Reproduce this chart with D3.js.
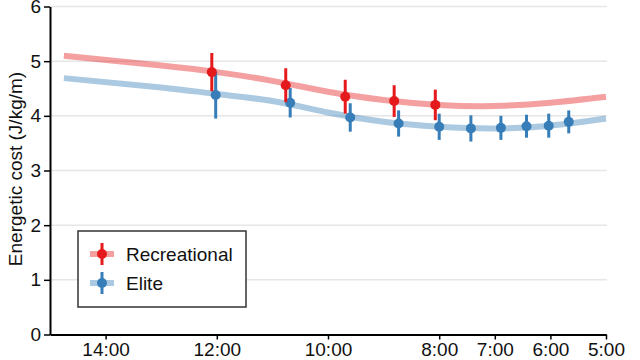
<!DOCTYPE html>
<html><head><meta charset="utf-8">
<script src="https://cdn.jsdelivr.net/npm/d3@7"></script>
<style>body{margin:0;background:#fff}svg{display:block;font-family:"Liberation Sans",Arial,sans-serif}</style>
</head><body><svg id="c" width="640" height="360"></svg>
<script>
const xTicks = [14, 12, 10, 8, 7, 6, 5];
const yTicks = [0, 1, 2, 3, 4, 5, 6];
const seriesNames = ["Recreational", "Elite"];

const recPace = [12.09, 10.76, 9.69, 8.81, 8.07];
const recMean = [4.80, 4.56, 4.35, 4.27, 4.20];
const recErr  = [0.35, 0.31, 0.31, 0.29, 0.28];

const elitePace = [12.02, 10.68, 9.60, 8.73, 8.00, 7.43, 6.89, 6.43, 6.03, 5.67];
const eliteMean = [4.38, 4.24, 3.97, 3.86, 3.80, 3.77, 3.78, 3.81, 3.82, 3.89];
const eliteErr  = [0.43, 0.27, 0.26, 0.24, 0.24, 0.24, 0.22, 0.21, 0.22, 0.21];

const fitPace  = [14.75, 13, 12, 11, 10, 9, 8, 7, 6, 5];
const recFit   = [5.10, 4.92, 4.80, 4.64, 4.44, 4.29, 4.20, 4.18, 4.24, 4.35];
const eliteFit = [4.69, 4.52, 4.40, 4.27, 4.06, 3.89, 3.80, 3.77, 3.82, 3.95];

const colors = ["#e41a1c", "#377eb8"];

const svg = d3.select("#c");
const x = d3.scaleLinear().domain([15, 5]).range([50, 606]);
const y = d3.scaleLinear().domain([0, 6]).range([334.5, 6.5]);

// grid
svg.append("g").selectAll("line").data(yTicks.filter(d => d > 0)).join("line")
  .attr("x1", 50).attr("x2", 607).attr("y1", d => y(d)).attr("y2", d => y(d))
  .attr("stroke", "#e6e6e6").attr("stroke-width", 1.5);

// fitted curves
const line = d3.line().x(d => x(d[0])).y(d => y(d[1])).curve(d3.curveNatural);
[recFit, eliteFit].forEach((f, i) => {
  svg.append("path").datum(fitPace.map((p, j) => [p, f[j]]))
    .attr("d", line).attr("fill", "none")
    .attr("stroke", colors[i]).attr("stroke-opacity", 0.42).attr("stroke-width", 6)
    .attr("stroke-linecap", "butt");
});

// points with error bars
function drawPts(pace, mean, err, col) {
  const g = svg.append("g");
  pace.forEach((p, i) => {
    g.append("line").attr("x1", x(p)).attr("x2", x(p))
      .attr("y1", y(mean[i] - err[i])).attr("y2", y(mean[i] + err[i]))
      .attr("stroke", col).attr("stroke-width", 3);
    g.append("circle").attr("cx", x(p)).attr("cy", y(mean[i])).attr("r", 5).attr("fill", col);
  });
}
drawPts(elitePace, eliteMean, eliteErr, colors[1]);
drawPts(recPace, recMean, recErr, colors[0]);

// axes
const xAxis = d3.axisBottom(x).tickValues(xTicks).tickFormat(d => d + ":00")
  .tickSize(5).tickSizeOuter(0).tickPadding(3);
const yAxis = d3.axisLeft(y).tickValues(yTicks).tickFormat(d3.format("d"))
  .tickSize(6).tickSizeOuter(0).tickPadding(3);
const gx = svg.append("g").attr("transform", "translate(0,334.5)").call(xAxis);
const gy = svg.append("g").attr("transform", "translate(50,0)").call(yAxis);
[gx, gy].forEach(g => {
  g.select(".domain").attr("stroke", "#000").attr("stroke-width", 2);
  g.selectAll(".tick line").attr("stroke", "#000").attr("stroke-width", 1.5);
  g.selectAll(".tick text").attr("font-size", 19).attr("fill", "#111")
    .attr("font-family", "Liberation Sans, Arial, sans-serif");
});

// y label
svg.append("text").attr("transform", "translate(22,169) rotate(-90)")
  .attr("text-anchor", "middle").attr("font-size", 19).attr("fill", "#111")
  .text("Energetic cost (J/kg/m)");

// legend
const lg = svg.append("g");
lg.append("rect").attr("x", 78).attr("y", 231).attr("width", 168).attr("height", 76)
  .attr("fill", "#fff").attr("stroke", "#333").attr("stroke-width", 1.5);
seriesNames.forEach((n, i) => {
  const cy = 254 + i * 29;
  lg.append("line").attr("x1", 90).attr("x2", 114).attr("y1", cy).attr("y2", cy)
    .attr("stroke", colors[i]).attr("stroke-opacity", 0.42).attr("stroke-width", 6);
  lg.append("line").attr("x1", 102).attr("x2", 102).attr("y1", cy - 11).attr("y2", cy + 11)
    .attr("stroke", colors[i]).attr("stroke-width", 3);
  lg.append("circle").attr("cx", 102).attr("cy", cy).attr("r", 5).attr("fill", colors[i]);
  lg.append("text").attr("x", 126).attr("y", cy).attr("dy", "0.35em")
    .attr("font-size", 19).attr("fill", "#111").text(n);
});
</script></body></html>
